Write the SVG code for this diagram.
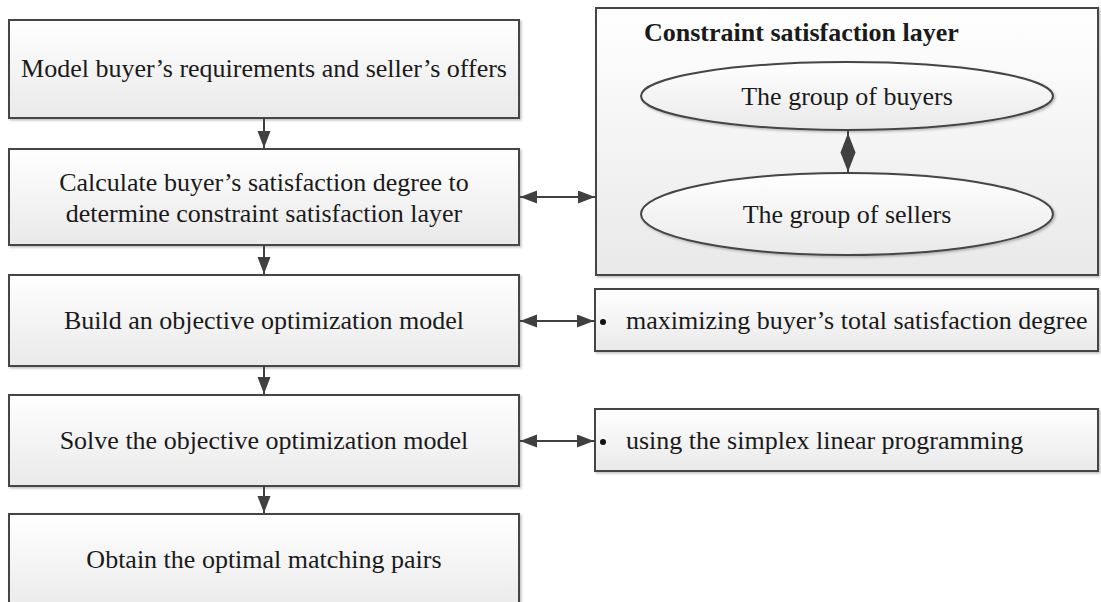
<svg xmlns="http://www.w3.org/2000/svg" width="1101" height="602" viewBox="0 0 1101 602">
<defs>
<linearGradient id="g" x1="0" y1="0" x2="0" y2="1">
<stop offset="0" stop-color="#ffffff"/>
<stop offset="1" stop-color="#e9e9e9"/>
</linearGradient>
<filter id="sh" x="-5%" y="-5%" width="110%" height="120%">
<feDropShadow dx="1.5" dy="1.5" stdDeviation="1" flood-color="#000" flood-opacity="0.25"/>
</filter>
<marker id="ah" markerUnits="userSpaceOnUse" markerWidth="18" markerHeight="14" refX="17" refY="6.5" orient="auto-start-reverse">
<path d="M0,0 L17,6.5 L0,13 Z" fill="#404040"/>
</marker>
<style>
.box{fill:url(#g);stroke:#454545;stroke-width:2;filter:url(#sh)}
.t{font-family:"Liberation Serif","Times New Roman",serif;font-size:26px;fill:#1a1a1a}
.c{text-anchor:middle}
.b{font-weight:bold}
.ln{stroke:#404040;stroke-width:2;fill:none}
</style>
</defs>
<rect width="1101" height="602" fill="#ffffff"/>

<g id="n1">
<rect class="box" x="9" y="20" width="510" height="98"/>
<text class="t c" x="264" y="77">Model buyer’s requirements and seller’s offers</text>
</g>
<g id="n2">
<rect class="box" x="9" y="149" width="510" height="96"/>
<text class="t c" x="264" y="191">Calculate buyer’s satisfaction degree to</text>
<text class="t c" x="264" y="222">determine constraint satisfaction layer</text>
</g>
<g id="n3">
<rect class="box" x="9" y="275" width="510" height="91"/>
<text class="t c" x="264" y="329">Build an objective optimization model</text>
</g>
<g id="n4">
<rect class="box" x="9" y="395" width="510" height="91"/>
<text class="t c" x="264" y="449">Solve the objective optimization model</text>
</g>
<g id="n5">
<rect class="box" x="9" y="514" width="510" height="100"/>
<text class="t c" x="264" y="568">Obtain the optimal matching pairs</text>
</g>

<g id="layer">
<rect class="box" x="596" y="8" width="502" height="267"/>
<text class="t b" x="644" y="41">Constraint satisfaction layer</text>
</g>
<g id="buyers">
<ellipse class="box" cx="847" cy="96" rx="206" ry="34"/>
<text class="t c" x="847" y="105">The group of buyers</text>
</g>
<g id="sellers">
<ellipse class="box" cx="847" cy="214" rx="206" ry="41"/>
<text class="t c" x="847" y="223">The group of sellers</text>
</g>

<g id="obj">
<rect class="box" x="595" y="289" width="503" height="62"/>
<circle cx="603" cy="322" r="3" fill="#111"/>
<text class="t" x="626" y="329">maximizing buyer’s total satisfaction degree</text>
</g>
<g id="solve">
<rect class="box" x="595" y="409" width="503" height="62"/>
<circle cx="603" cy="442" r="3" fill="#111"/>
<text class="t" x="626" y="449">using the simplex linear programming</text>
</g>

<g id="connectors">
<line class="ln" x1="264" y1="119" x2="264" y2="148" marker-end="url(#ah)"/>
<line class="ln" x1="264" y1="246" x2="264" y2="274" marker-end="url(#ah)"/>
<line class="ln" x1="264" y1="367" x2="264" y2="394" marker-end="url(#ah)"/>
<line class="ln" x1="264" y1="487" x2="264" y2="513" marker-end="url(#ah)"/>
<line class="ln" x1="520" y1="197" x2="595" y2="197" marker-start="url(#ah)" marker-end="url(#ah)"/>
<line class="ln" x1="520" y1="321" x2="594" y2="321" marker-start="url(#ah)" marker-end="url(#ah)"/>
<line class="ln" x1="520" y1="441" x2="594" y2="441" marker-start="url(#ah)" marker-end="url(#ah)"/>
<line class="ln" x1="848" y1="131" x2="848" y2="173"/>
<polygon points="848,133 855.5,152.5 848,172 840.5,152.5" fill="#404040"/>
</g>
</svg>
